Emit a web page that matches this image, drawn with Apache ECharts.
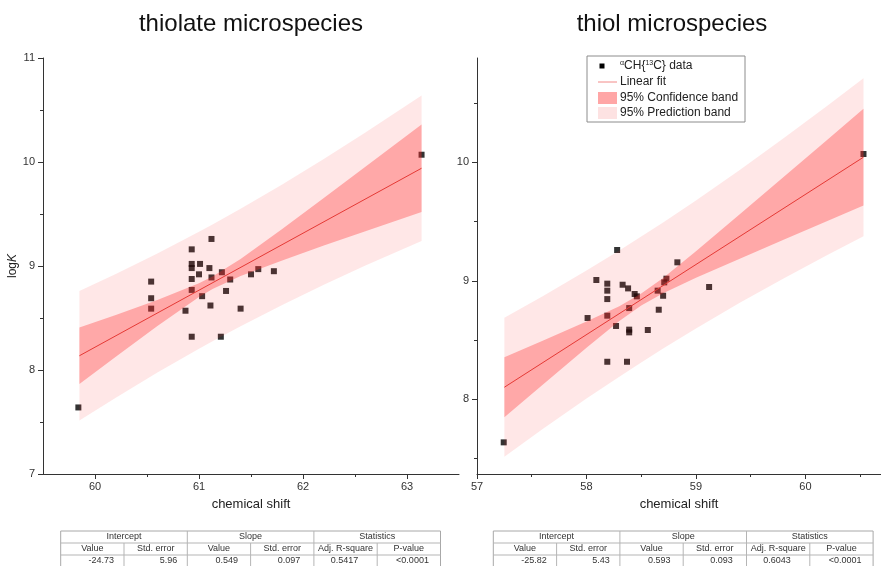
<!DOCTYPE html>
<html>
<head>
<meta charset="utf-8">
<script src="https://cdn.jsdelivr.net/npm/echarts@6/dist/echarts.min.js"></script>
<style>
  html, body { margin: 0; padding: 0; background: #fff; }
  #chart { width: 881px; height: 566px; }
</style>
</head>
<body>
<div id="chart"></div>
<script>
// ---- data ----
// thiolate microspecies (left)
var thiolateX = [59.84, 63.14, 60.54, 60.54, 60.54, 60.87, 60.93, 60.93, 60.93, 60.93, 60.93, 60.93,
                 61.01, 61.00, 61.03, 61.10, 61.12, 61.12, 61.11, 61.21, 61.22, 61.30, 61.26, 61.40,
                 61.50, 61.57, 61.72];
var thiolateY = [7.64, 10.07, 8.85, 8.69, 8.59, 8.57, 9.16, 9.02, 8.98, 8.875, 8.77, 8.32,
                 9.02, 8.92, 8.71, 8.98, 9.26, 8.89, 8.62, 8.32, 8.94, 8.87, 8.76, 8.59,
                 8.92, 8.97, 8.95];
var thiolateFitX = [59.85, 63.14];
var thiolateFitY = [8.137, 9.940];
var thiolateBandX = [59.85, 60.2, 60.6, 61.0, 61.13, 61.4, 61.8, 62.2, 62.6, 63.14];
var thiolateConfLo = [7.866, 8.128, 8.423, 8.701, 8.778, 8.904, 9.054, 9.196, 9.334, 9.520];
var thiolateConfHi = [8.408, 8.530, 8.673, 8.833, 8.898, 9.068, 9.356, 9.654, 9.954, 10.360];
var thiolatePredLo = [7.515, 7.734, 7.975, 8.204, 8.276, 8.421, 8.626, 8.820, 9.005, 9.241];
var thiolatePredHi = [8.759, 8.924, 9.121, 9.330, 9.400, 9.551, 9.784, 10.030, 10.283, 10.639];

// thiol microspecies (right)
var thiolX = [57.244, 60.53, 58.01, 58.09, 58.19, 58.19, 58.19, 58.19, 58.19, 58.28, 58.27, 58.33,
              58.38, 58.39, 58.39, 58.39, 58.37, 58.44, 58.46, 58.56, 58.65, 58.66, 58.70, 58.71,
              58.73, 58.83, 59.12];
var thiolY = [7.637, 10.07, 8.686, 9.007, 8.976, 8.917, 8.846, 8.706, 8.317, 9.26, 8.619, 8.967,
              8.936, 8.77, 8.588, 8.565, 8.317, 8.889, 8.869, 8.585, 8.917, 8.756, 8.874, 8.987,
              9.018, 9.156, 8.948];
var thiolFitX = [57.25, 60.53];
var thiolFitY = [8.102, 10.043];
var thiolBandX = [57.25, 57.6, 58.0, 58.3, 58.5, 58.7, 59.0, 59.4, 59.8, 60.2, 60.53];
var thiolConfLo = [7.849, 8.124, 8.435, 8.660, 8.792, 8.896, 9.026, 9.187, 9.347, 9.505, 9.635];
var thiolConfHi = [8.355, 8.494, 8.657, 8.786, 8.892, 9.024, 9.250, 9.561, 9.875, 10.191, 10.451];
var thiolPredLo = [7.516, 7.749, 8.006, 8.191, 8.311, 8.428, 8.598, 8.814, 9.020, 9.218, 9.376];
var thiolPredHi = [8.688, 8.869, 9.086, 9.255, 9.373, 9.492, 9.678, 9.934, 10.202, 10.478, 10.710];

// tick positions
var thiolateXTicks = [60, 61, 62, 63];
var thiolateXMinor = [60.5, 61.5, 62.5];
var thiolateYTicks = [7, 8, 9, 10, 11];
var thiolateYMinor = [7.5, 8.5, 9.5, 10.5];
var thiolXTicks = [57, 58, 59, 60];
var thiolXMinor = [57.5, 58.5, 59.5, 60.5];
var thiolYTicks = [8, 9, 10];
var thiolYMinor = [7.5, 8.5, 9.5, 10.5];

// fit tables
var tableGroups = ['Intercept', 'Slope', 'Statistics'];
var tableColumns = ['Value', 'Std. error', 'Value', 'Std. error', 'Adj. R-square', 'P-value'];
var thiolateStats = ['-24.73', '5.96', '0.549', '0.097', '0.5417', '<0.0001'];
var thiolStats = ['-25.82', '5.43', '0.593', '0.093', '0.6043', '<0.0001'];

// ---- styling ----
var FONT = 'Liberation Sans, Arial, Helvetica, sans-serif';
var CONF_COLOR = 'rgba(255, 40, 40, 0.33)';
var PRED_COLOR = 'rgba(255, 60, 60, 0.12)';
var FIT_COLOR = '#e53935';

function pairs(xs, ys) {
    var out = [];
    for (var i = 0; i < xs.length; i++) out.push([xs[i], ys[i]]);
    return out;
}

function bandSeries(gridIdx, xs, lo, hi, color, z) {
    return {
        type: 'custom',
        xAxisIndex: gridIdx * 2,
        yAxisIndex: gridIdx * 2,
        z: z,
        silent: true,
        data: [[xs[0], lo[0]]],
        renderItem: function (params, api) {
            var pts = [];
            for (var i = 0; i < xs.length; i++) pts.push(api.coord([xs[i], hi[i]]));
            for (var j = xs.length - 1; j >= 0; j--) pts.push(api.coord([xs[j], lo[j]]));
            return { type: 'polygon', shape: { points: pts }, style: { fill: color } };
        }
    };
}

function mainX(gridIdx, min, max, ticks, name) {
    return {
        type: 'value', gridIndex: gridIdx, min: min, max: max,
        name: name, nameLocation: 'middle', nameGap: 24,
        nameTextStyle: { fontFamily: FONT, fontSize: 13, color: '#222' },
        axisLine: { onZero: false, lineStyle: { color: '#333', width: 1 } },
        axisTick: { show: true, length: 5, customValues: ticks, lineStyle: { color: '#333' } },
        axisLabel: { customValues: ticks, margin: 7, fontFamily: FONT, fontSize: 11, color: '#333' },
        splitLine: { show: false }
    };
}
function minorX(gridIdx, min, max, ticks) {
    return {
        type: 'value', gridIndex: gridIdx, min: min, max: max, position: 'bottom',
        axisLine: { show: false },
        axisTick: { show: true, length: 3, customValues: ticks, lineStyle: { color: '#333' } },
        axisLabel: { show: false },
        splitLine: { show: false }
    };
}
function mainY(gridIdx, min, max, ticks, name) {
    return {
        type: 'value', gridIndex: gridIdx, min: min, max: max,
        name: name, nameLocation: 'middle', nameGap: 23, nameRotate: 90,
        nameTextStyle: {
            fontFamily: FONT, fontSize: 12, color: '#222',
            rich: { n: { fontFamily: FONT, fontSize: 12, color: '#222' },
                    i: { fontFamily: FONT, fontSize: 12, color: '#222', fontStyle: 'italic' } }
        },
        axisLine: { show: true, onZero: false, lineStyle: { color: '#333', width: 1 } },
        axisTick: { show: true, length: 5, customValues: ticks, lineStyle: { color: '#333' } },
        axisLabel: { customValues: ticks, margin: 8, fontFamily: FONT, fontSize: 11, color: '#333' },
        splitLine: { show: false }
    };
}
function minorY(gridIdx, min, max, ticks) {
    return {
        type: 'value', gridIndex: gridIdx, min: min, max: max, position: 'left',
        axisLine: { show: false },
        axisTick: { show: true, length: 3, customValues: ticks, lineStyle: { color: '#333' } },
        axisLabel: { show: false },
        splitLine: { show: false }
    };
}

// ---- table + legend graphics ----
function tableGraphic(left, stats) {
    var top = 531, rowH = 12, colW = 63.3, width = colW * 6;
    var valueOffsets = [40.6, 107.8, 166, 228.3, 283.8, 351.8];
    var els = [];
    var line = function (x1, y1, x2, y2) {
        els.push({ type: 'line', shape: { x1: x1, y1: y1, x2: x2, y2: y2 }, style: { stroke: '#b5b5b5', lineWidth: 1 }, silent: true });
    };
    els.push({ type: 'rect', shape: { x: left, y: top, width: width, height: rowH * 3 + 2 },
               style: { fill: '#fff', stroke: '#a8a8a8', lineWidth: 1 }, silent: true });
    line(left, top + rowH, left + width, top + rowH);
    line(left, top + rowH * 2, left + width, top + rowH * 2);
    for (var c = 1; c < 6; c++) {
        var x = left + colW * c;
        line(x, c % 2 === 0 ? top : top + rowH, x, top + rowH * 3 + 2);
    }
    var txt = function (x, y, s) {
        els.push({ type: 'text', x: x, y: y, silent: true,
                   style: { text: s, fontFamily: FONT, fontSize: 9, fill: '#333', textAlign: 'center', textVerticalAlign: 'middle' } });
    };
    for (var g = 0; g < 3; g++) txt(left + colW * (2 * g + 1), top + rowH / 2, tableGroups[g]);
    for (var k = 0; k < 6; k++) {
        txt(left + colW * (k + 0.5), top + rowH * 1.5, tableColumns[k]);
        txt(left + valueOffsets[k], top + rowH * 2.5, stats[k]);
    }
    return els;
}

function legendGraphic() {
    var x0 = 587, y0 = 56;
    var rowY = [66, 82, 98, 113];
    var els = [];
    els.push({ type: 'rect', shape: { x: x0, y: y0, width: 158, height: 66 },
               style: { fill: '#fff', stroke: '#8c8c8c', lineWidth: 1 }, z: 10 });
    els.push({ type: 'rect', shape: { x: 599.5, y: rowY[0] - 2.5, width: 5, height: 5 }, style: { fill: '#000' }, z: 11 });
    els.push({ type: 'line', shape: { x1: 598, y1: rowY[1], x2: 617, y2: rowY[1] }, style: { stroke: '#f28a88', lineWidth: 1 }, z: 11 });
    els.push({ type: 'rect', shape: { x: 598, y: rowY[2] - 6, width: 19, height: 12 }, style: { fill: '#ffa6a6' }, z: 11 });
    els.push({ type: 'rect', shape: { x: 598, y: rowY[3] - 6, width: 19, height: 12 }, style: { fill: '#fde2e2' }, z: 11 });
    var labels = ['{sup|α}CH{{sup|13}C} data', 'Linear fit', '95% Confidence band', '95% Prediction band'];
    for (var i = 0; i < 4; i++) {
        els.push({ type: 'text', x: 620, y: rowY[i], z: 11,
                   style: { text: labels[i], fontFamily: FONT, fontSize: 12, fill: '#222', textVerticalAlign: 'middle',
                            rich: { sup: { fontFamily: FONT, fontSize: 7, fill: '#222', verticalAlign: 'top', padding: [0, 0, 6, 0] } } } });
    }
    return els;
}

var chart = echarts.init(document.getElementById('chart'));

var option = {
    backgroundColor: '#fff',
    animation: false,
    grid: [
        { left: 43, top: 58, width: 416, height: 416 },
        { left: 477, top: 58, width: 404, height: 416 }
    ],
    xAxis: [
        mainX(0, 59.5, 63.5, thiolateXTicks, 'chemical shift'),
        minorX(0, 59.5, 63.5, thiolateXMinor),
        mainX(1, 57, 60.69, thiolXTicks, 'chemical shift'),
        minorX(1, 57, 60.69, thiolXMinor)
    ],
    yAxis: [
        mainY(0, 7, 11, thiolateYTicks, '{n|log}{i|K}'),
        minorY(0, 7, 11, thiolateYMinor),
        mainY(1, 7.37, 10.88, thiolYTicks, ''),
        minorY(1, 7.37, 10.88, thiolYMinor)
    ],
    graphic: [
        { type: 'text', x: 251, y: 24, style: { text: 'thiolate microspecies', fontFamily: FONT, fontSize: 24, fill: '#111', textAlign: 'center', textVerticalAlign: 'middle' } },
        { type: 'text', x: 672, y: 24, style: { text: 'thiol microspecies', fontFamily: FONT, fontSize: 24, fill: '#111', textAlign: 'center', textVerticalAlign: 'middle' } }
    ].concat(tableGraphic(60.7, thiolateStats), tableGraphic(493.3, thiolStats), legendGraphic()),
    series: [
        { type: 'scatter', xAxisIndex: 0, yAxisIndex: 0, z: 1, symbol: 'rect', symbolSize: 6,
          itemStyle: { color: '#000' }, data: pairs(thiolateX, thiolateY) },
        bandSeries(0, thiolateBandX, thiolatePredLo, thiolatePredHi, PRED_COLOR, 2),
        bandSeries(0, thiolateBandX, thiolateConfLo, thiolateConfHi, CONF_COLOR, 3),
        { type: 'line', xAxisIndex: 0, yAxisIndex: 0, z: 4, symbol: 'none', silent: true,
          lineStyle: { color: FIT_COLOR, width: 1 }, data: pairs(thiolateFitX, thiolateFitY) },

        { type: 'scatter', xAxisIndex: 2, yAxisIndex: 2, z: 1, symbol: 'rect', symbolSize: 6,
          itemStyle: { color: '#000' }, data: pairs(thiolX, thiolY) },
        bandSeries(1, thiolBandX, thiolPredLo, thiolPredHi, PRED_COLOR, 2),
        bandSeries(1, thiolBandX, thiolConfLo, thiolConfHi, CONF_COLOR, 3),
        { type: 'line', xAxisIndex: 2, yAxisIndex: 2, z: 4, symbol: 'none', silent: true,
          lineStyle: { color: FIT_COLOR, width: 1 }, data: pairs(thiolFitX, thiolFitY) }
    ]
};

chart.setOption(option);
</script>
</body>
</html>
